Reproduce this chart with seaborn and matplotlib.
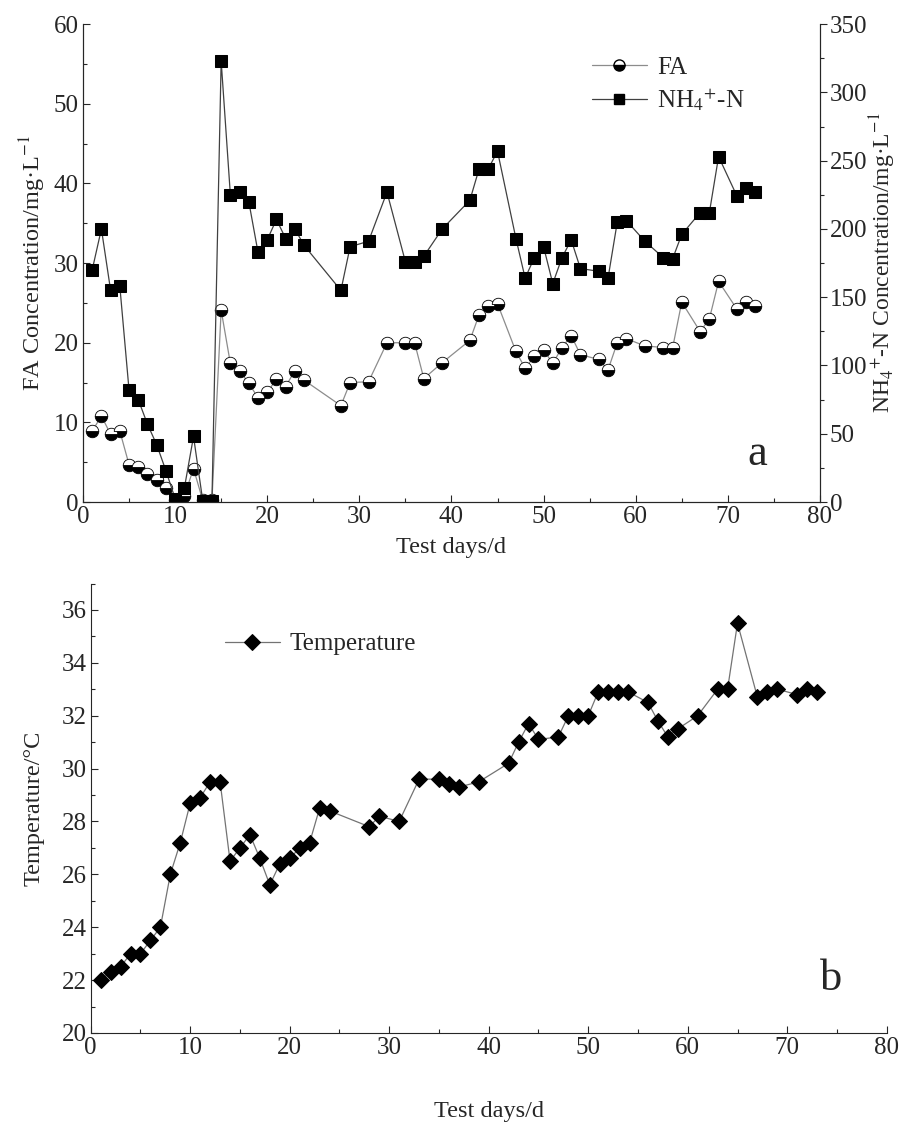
import numpy as np
import pandas as pd
import matplotlib
matplotlib.use("Agg")
import matplotlib.pyplot as plt
from matplotlib.ticker import MultipleLocator
from matplotlib.lines import Line2D
import seaborn as sns

# dados (a: FA e NH4+-N, b: temperatura)
dias_a = [1, 2, 3, 4, 5, 6, 7, 8, 9, 10, 11, 12, 13, 14, 15, 16, 17, 18, 19, 20,
          21, 22, 23, 24, 28, 29, 31, 33, 35, 36, 37, 39, 42, 43, 44, 45, 47, 48,
          49, 50, 51, 52, 53, 54, 56, 57, 58, 59, 61, 63, 64, 65, 67, 68, 69, 71,
          72, 73]
fa = [8.9, 10.8, 8.5, 8.9, 4.7, 4.4, 3.5, 2.8, 1.7, 0.2, 0.75, 4.2, 0.2, 0.2, 24.1,
      17.4, 16.5, 14.9, 13.1, 13.8, 15.4, 14.5, 16.5, 15.3, 12.1, 15.0, 15.1, 20.0,
      20.0, 20.0, 15.5, 17.5, 20.3, 23.5, 24.6, 24.9, 18.9, 16.8, 18.3, 19.1, 17.4,
      19.4, 20.9, 18.5, 17.9, 16.6, 20.0, 20.5, 19.6, 19.4, 19.3, 25.1, 21.4, 23.0,
      27.7, 24.2, 25.1, 24.6]
nh4 = [170, 200, 155, 158, 82, 75, 57, 42, 23, 2.5, 10, 48, 1, 1, 323, 225, 227,
       220, 183, 192, 207, 193, 200, 188, 155, 187, 191, 227, 176, 176, 180, 200,
       221, 244, 244, 257, 193, 164, 179, 187, 160, 179, 192, 171, 169, 164, 205,
       206, 191, 179, 178, 196, 212, 212, 253, 224, 230, 227]

dias_b = [1, 2, 3, 4, 5, 6, 7, 8, 9, 10, 11, 12, 13, 14, 15, 16, 17, 18, 19, 20,
          21, 22, 23, 24, 28, 29, 31, 33, 35, 36, 37, 39, 42, 43, 44, 45, 47, 48,
          49, 50, 51, 52, 53, 54, 56, 57, 58, 59, 61, 63, 64, 65, 67, 68, 69, 71,
          72, 73]
temperatura = [22.0, 22.3, 22.5, 23.0, 23.0, 23.5, 24.0, 26.0, 27.2, 28.7, 28.9,
               29.5, 29.5, 26.5, 27.0, 27.5, 26.6, 25.6, 26.4, 26.6, 27.0, 27.2,
               28.5, 28.4, 27.8, 28.2, 28.0, 29.6, 29.6, 29.4, 29.3, 29.5, 30.2,
               31.0, 31.7, 31.1, 31.2, 32.0, 32.0, 32.0, 32.9, 32.9, 32.9, 32.9,
               32.5, 31.8, 31.2, 31.5, 32.0, 33.0, 33.0, 35.5, 32.7, 32.9, 33.0,
               32.8, 33.0, 32.9]

df_a = pd.DataFrame({"dia": dias_a, "FA": fa, "NH4": nh4})
df_b = pd.DataFrame({"dia": dias_b, "T": temperatura})

sns.set_style("ticks")
plt.rcParams["font.family"] = ["Liberation Serif", "DejaVu Serif"]
plt.rcParams["mathtext.fontset"] = "stix"
plt.rcParams["font.size"] = 17

TICK = 18
LAB = 17.5

fig = plt.figure(figsize=(9.02, 11.35), dpi=100)

# ---------- painel a ----------
ax1 = fig.add_axes([0.092, 0.5577, 0.817, 0.421])
ax2 = ax1.twinx()

sns.lineplot(data=df_a, x="dia", y="FA", ax=ax1, color="0.55", lw=0.9,
             marker="o", markersize=9, fillstyle="bottom",
             markerfacecolor="black", markerfacecoloralt="white",
             markeredgecolor="black", markeredgewidth=0.6)
sns.lineplot(data=df_a, x="dia", y="NH4", ax=ax2, color="0.25", lw=0.9,
             marker="s", markersize=8, markerfacecolor="black",
             markeredgecolor="black")

ax1.set_xlim(0, 80)
ax1.set_ylim(0, 60)
ax2.set_ylim(0, 350)
ax1.xaxis.set_major_locator(MultipleLocator(10))
ax1.xaxis.set_minor_locator(MultipleLocator(5))
ax1.yaxis.set_major_locator(MultipleLocator(10))
ax1.yaxis.set_minor_locator(MultipleLocator(5))
ax2.yaxis.set_major_locator(MultipleLocator(50))
ax2.yaxis.set_minor_locator(MultipleLocator(25))

ax1.set_xlabel("Test days/d", fontsize=LAB, labelpad=6)
ax1.set_ylabel("FA Concentration/mg·L$^{-1}$", fontsize=LAB, labelpad=4)
ax2.set_ylabel("NH$_4$$^{+}$-N Concentration/mg·L$^{-1}$", fontsize=17, labelpad=0)

for a in (ax1, ax2):
    a.spines["top"].set_visible(False)
    a.tick_params(which="major", length=5, width=0.8, labelsize=TICK, pad=3)
    a.tick_params(which="minor", length=3, width=0.8)
ax1.tick_params(axis="both", which="both", direction="in")
ax2.tick_params(axis="y", which="both", direction="out", pad=2)

h_fa = Line2D([], [], color="0.55", lw=0.9, marker="o", markersize=8,
              fillstyle="bottom", markerfacecolor="black",
              markerfacecoloralt="white", markeredgecolor="black")
h_nh = Line2D([], [], color="0.25", lw=0.9, marker="s", markersize=7,
              markerfacecolor="black", markeredgecolor="black")
ax1.legend([h_fa, h_nh], ["FA", "NH$_4$$^{+}$-N"], loc="upper left",
           bbox_to_anchor=(0.66, 0.98), frameon=False, fontsize=18,
           handlelength=2.2, handletextpad=0.4, labelspacing=0.3)
ax1.text(0.915, 0.1, "a", transform=ax1.transAxes, fontsize=32,
         ha="center", va="center")

# ---------- painel b ----------
ax3 = fig.add_axes([0.1006, 0.0899, 0.8825, 0.396])
sns.lineplot(data=df_b, x="dia", y="T", ax=ax3, color="0.45", lw=0.9,
             marker="D", markersize=8, markerfacecolor="black",
             markeredgecolor="black", label="Temperature")

ax3.set_xlim(0, 80)
ax3.set_ylim(20, 37)
ax3.xaxis.set_major_locator(MultipleLocator(10))
ax3.xaxis.set_minor_locator(MultipleLocator(5))
ax3.yaxis.set_major_locator(MultipleLocator(2))
ax3.yaxis.set_minor_locator(MultipleLocator(1))
ax3.set_xlabel("Test days/d", fontsize=LAB, labelpad=30)
ax3.set_ylabel("Temperature/°C", fontsize=LAB, labelpad=12)
ax3.spines["top"].set_visible(False)
ax3.spines["right"].set_visible(False)
ax3.tick_params(which="major", length=5, width=0.8, labelsize=TICK, direction="in", pad=3)
ax3.tick_params(which="minor", length=3, width=0.8, direction="in")
ax3.legend(loc="upper left", bbox_to_anchor=(0.14, 0.94), frameon=False,
           fontsize=18, handlelength=2.2, handletextpad=0.4)
ax3.text(0.93, 0.12, "b", transform=ax3.transAxes, fontsize=32,
         ha="center", va="center")

fig.savefig("out.png", dpi=100)
